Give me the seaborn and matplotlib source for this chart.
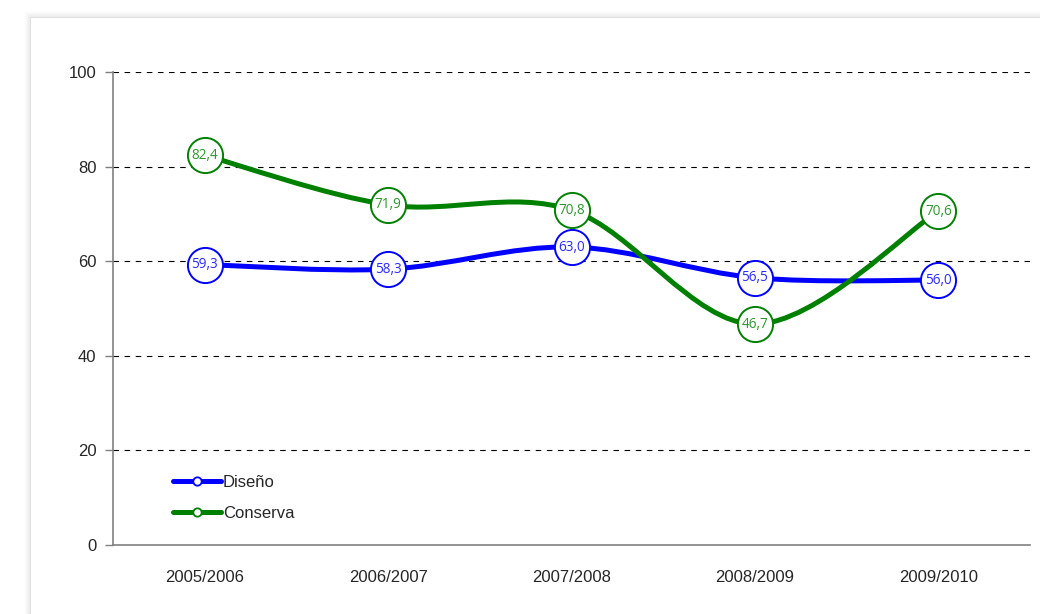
import numpy as np
import pandas as pd
import seaborn as sns
from matplotlib import pyplot as plt
from matplotlib.lines import Line2D
from matplotlib.patches import PathPatch, Rectangle
from matplotlib.path import Path

periods = ['2005/2006', '2006/2007', '2007/2008', '2008/2009', '2009/2010']
diseno = [59.3, 58.3, 63.0, 56.5, 56.0]
conserva = [82.4, 71.9, 70.8, 46.7, 70.6]
series_names = ['Diseño', 'Conserva']
line_colors = ['#0000ff', '#008000']
text_colors = ['#2b2bff', '#2f962f']
y_ticks = [0, 20, 40, 60, 80, 100]


def smooth_path(xs, ys):
    # bezier segments like spreadsheet "smoothed line"
    pts = np.column_stack([xs, ys]).astype(float)
    n = len(pts)
    verts = [pts[0]]
    codes = [Path.MOVETO]
    for i in range(n - 1):
        p0 = pts[max(i - 1, 0)]
        p1 = pts[i]
        p2 = pts[i + 1]
        p3 = pts[min(i + 2, n - 1)]
        c1 = p1 + (p2 - p0) / 6.0
        c2 = p2 - (p3 - p1) / 6.0
        verts += [c1, c2, p2]
        codes += [Path.CURVE4] * 3
    return Path(verts, codes)


def shadow(fig):
    # soft grey shadow around the white panel
    for k in range(6):
        off = k * 1.0
        fig.patches.append(Rectangle(
            ((30 - off) / 1040, 0), 1.2, (614 - 17 + off) / 614,
            transform=fig.transFigure, facecolor='none',
            edgecolor='#000000', alpha=0.03 * (6 - k) / 3, lw=1.0, zorder=-10))
    fig.patches.append(Rectangle(
        (30 / 1040, 0), 1.2, (614 - 17) / 614,
        transform=fig.transFigure, facecolor='white', edgecolor='#dcdcdc',
        lw=0.6, zorder=-9))


def main():
    sns.set_style('white')
    plt.rcParams['font.family'] = ['Liberation Sans', 'DejaVu Sans']

    fig = plt.figure(figsize=(10.4, 6.14), dpi=100)
    shadow(fig)
    ax = fig.add_axes([113 / 1040, 69 / 614, 917 / 1040, 473 / 614])
    ax.patch.set_alpha(0)

    x = np.arange(len(periods))
    all_series = [diseno, conserva]

    for vals, color in zip(all_series, line_colors):
        ax.add_patch(PathPatch(smooth_path(x, vals), fill=False, edgecolor=color,
                               lw=3.6, capstyle='round', joinstyle='round', zorder=3))

    df = pd.DataFrame({
        'x': np.tile(x, 2),
        'value': diseno + conserva,
        'serie': np.repeat(series_names, len(periods)),
    })
    for name, color in zip(series_names, line_colors):
        sub = df[df['serie'] == name]
        sns.scatterplot(data=sub, x='x', y='value', s=640, color='white',
                        edgecolor=color, linewidth=1.4, ax=ax, zorder=4, legend=False)

    for vals, tcolor in zip(all_series, text_colors):
        for xi, v in zip(x, vals):
            ax.text(xi, v, f'{v:.1f}'.replace('.', ','), ha='center', va='center',
                    fontsize=9.8, color=tcolor, family=['Open Sans', 'DejaVu Sans'],
                    zorder=5)

    ax.set_xlim(-0.5, len(periods) - 0.5)
    ax.set_ylim(0, 100)
    ax.set_yticks(y_ticks)
    ax.set_yticklabels([str(t) for t in y_ticks], fontsize=12)
    ax.set_xticks(x)
    ax.set_xticklabels(periods, fontsize=12)
    ax.set_xticks(np.arange(-0.5, len(periods)), minor=True)
    ax.tick_params(axis='x', which='major', length=0, pad=18)
    ax.tick_params(axis='x', which='minor', length=6, width=1, color='#808080',
                   direction='out')
    ax.tick_params(axis='y', length=6, width=1, color='#808080', direction='out',
                   pad=6, left=True)
    ax.set_xlabel('')
    ax.set_ylabel('')

    for t in y_ticks[1:]:
        ax.axhline(t, color='black', lw=0.8, ls=(0, (5, 5)), zorder=1)

    for side in ['top', 'right']:
        ax.spines[side].set_visible(False)
    for side in ['left', 'bottom']:
        ax.spines[side].set_color('#808080')
        ax.spines[side].set_linewidth(1.2)

    handles = [Line2D([], [], color=c, lw=3.6, marker='o', markersize=6,
                      markerfacecolor='white', markeredgecolor=c, markeredgewidth=1.3)
               for c in line_colors]
    ax.legend(handles, series_names, loc='upper left', bbox_to_anchor=(0.058, 0.163),
              frameon=False, fontsize=12, handlelength=2.9, handletextpad=0.1,
              labelspacing=1.0, borderaxespad=0)

    fig.savefig('out.png', dpi=100)
    plt.close(fig)


if __name__ == '__main__':
    main()
